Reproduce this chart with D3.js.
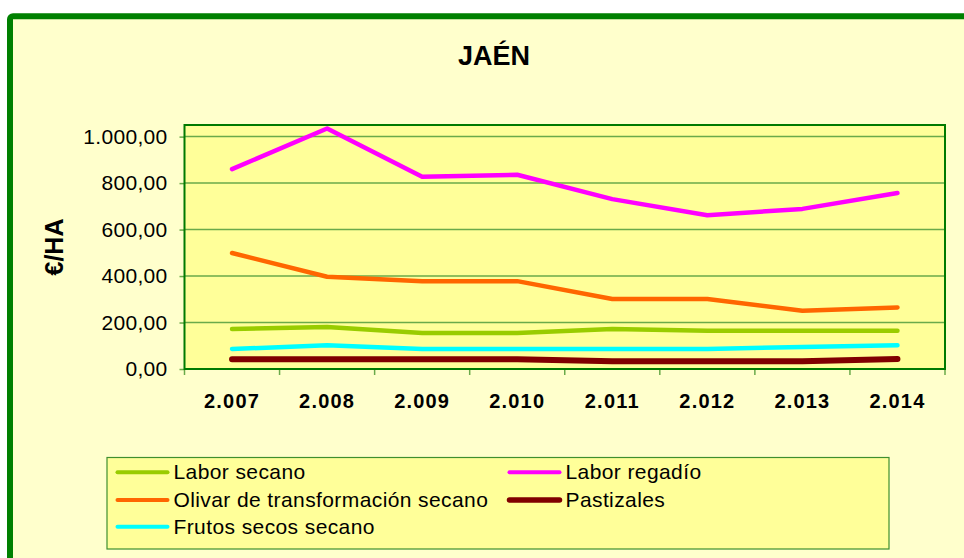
<!DOCTYPE html>
<html>
<head>
<meta charset="utf-8">
<script src="https://cdn.jsdelivr.net/npm/d3@7"></script>
<style>
  html, body { margin: 0; padding: 0; background: #fff; }
  svg { display: block; font-family: "Liberation Sans", Arial, sans-serif; }
</style>
</head>
<body>
<svg id="chart"></svg>
<script>
// data
const years = ["2.007", "2.008", "2.009", "2.010", "2.011", "2.012", "2.013", "2.014"];
const laborSecano = [172, 181, 155, 155, 172, 165, 165, 165];
const laborRegadio = [860, 1035, 827, 836, 731, 662, 689, 757];
const olivarSecano = [499, 397, 378, 378, 301, 301, 251, 265];
const pastizales = [42, 42, 42, 42, 33, 33, 33, 43];
const frutosSecos = [86, 102, 86, 86, 86, 86, 95, 102];
const yTicks = [0, 200, 400, 600, 800, 1000];

const series = [
  {name: "Labor secano", values: laborSecano, color: "#99cc00", w: 4.5},
  {name: "Labor regadío", values: laborRegadio, color: "#ff00ff", w: 4.5},
  {name: "Olivar de transformación secano", values: olivarSecano, color: "#ff6600", w: 4.5},
  {name: "Pastizales", values: pastizales, color: "#800000", w: 6},
  {name: "Frutos secos secano", values: frutosSecos, color: "#00ffff", w: 4.5}
];
// draw order: same as the picture (lighter lines under the thick ones)
const drawOrder = [1, 2, 0, 4, 3];

const W = 964, H = 558;
const plot = {left: 184.5, top: 125, right: 945, bottom: 369};

const svg = d3.select("#chart").attr("width", W).attr("height", H);

// outer frame
svg.append("rect")
  .attr("x", 10).attr("y", 16.3)
  .attr("width", 1000).attr("height", 600)
  .attr("rx", 3)
  .attr("fill", "#ffffcc")
  .attr("stroke", "#008000")
  .attr("stroke-width", 6);

svg.append("text")
  .attr("x", 494).attr("y", 64.5)
  .attr("text-anchor", "middle")
  .attr("font-size", 27).attr("font-weight", "bold")
  .text("JAÉN");

const x = d3.scaleBand().domain(years).range([plot.left, plot.right]);
const y = d3.scaleLinear().domain([0, 1050]).range([plot.bottom, plot.top]);

// plot background
svg.append("rect")
  .attr("x", plot.left).attr("y", plot.top)
  .attr("width", plot.right - plot.left).attr("height", plot.bottom - plot.top)
  .attr("fill", "#ffff99");

// gridlines + y axis
const yAxis = svg.append("g")
  .attr("transform", `translate(${plot.left},0)`)
  .call(d3.axisLeft(y).tickValues(yTicks).tickSize(5).tickPadding(12)
    .tickFormat(d => d3.format(",.2f")(d).replace(/,/g, "X").replace(".", ",").replace(/X/g, ".")));
yAxis.select(".domain").remove();
yAxis.selectAll(".tick line").attr("stroke", "#6aaa4a").attr("stroke-width", 1.5);
yAxis.selectAll(".tick text")
  .attr("font-size", 21).attr("font-family", "Liberation Sans, Arial, sans-serif")
  .attr("letter-spacing", 0.3)
  .attr("fill", "#000").attr("dy", "0.32em");

svg.append("g")
  .selectAll("line")
  .data(yTicks.filter(d => d > 0))
  .join("line")
  .attr("x1", plot.left).attr("x2", plot.right)
  .attr("y1", d => y(d)).attr("y2", d => y(d))
  .attr("stroke", "#6aaa4a").attr("stroke-width", 1.5);

// x axis ticks between categories
const xEdges = years.map(d => x(d)).concat([plot.right]);
svg.append("g")
  .selectAll("line")
  .data(xEdges)
  .join("line")
  .attr("x1", d => d).attr("x2", d => d)
  .attr("y1", plot.bottom).attr("y2", plot.bottom + 6)
  .attr("stroke", "#6aaa4a").attr("stroke-width", 1.5);

svg.append("g")
  .selectAll("text")
  .data(years)
  .join("text")
  .attr("x", d => x(d) + x.bandwidth() / 2)
  .attr("y", 407.5)
  .attr("text-anchor", "middle")
  .attr("font-size", 20).attr("font-weight", "bold")
  .attr("letter-spacing", 1.2)
  .text(d => d);

// plot border
svg.append("rect")
  .attr("x", plot.left).attr("y", plot.top)
  .attr("width", plot.right - plot.left).attr("height", plot.bottom - plot.top)
  .attr("fill", "none")
  .attr("stroke", "#007a00").attr("stroke-width", 2);

// y axis title
svg.append("text")
  .attr("transform", "translate(63,247) rotate(-90)")
  .attr("text-anchor", "middle")
  .attr("font-size", 25).attr("font-weight", "bold")
  .text("€/HA");

// lines
const line = d3.line()
  .x((d, i) => x(years[i]) + x.bandwidth() / 2)
  .y(d => y(d));

svg.append("g")
  .selectAll("path")
  .data(drawOrder.map(i => series[i]))
  .join("path")
  .attr("d", d => line(d.values))
  .attr("fill", "none")
  .attr("stroke", d => d.color)
  .attr("stroke-width", d => d.w)
  .attr("stroke-linejoin", "round")
  .attr("stroke-linecap", "round");

// legend
const legend = svg.append("g");
legend.append("rect")
  .attr("x", 107).attr("y", 457.5)
  .attr("width", 782).attr("height", 91.5)
  .attr("fill", "#ffff99")
  .attr("stroke", "#3f8f2f").attr("stroke-width", 1.2);

const colX = [117.5, 509.5];
const rowY = [472.3, 500, 526.7];
const items = legend.selectAll("g.item")
  .data(series)
  .join("g")
  .attr("class", "item")
  .attr("transform", (d, i) => `translate(${colX[i % 2]},${rowY[Math.floor(i / 2)]})`);

items.append("line")
  .attr("x1", 0).attr("x2", 50)
  .attr("stroke", d => d.color)
  .attr("stroke-width", d => d.w === 6 ? 5.5 : 4)
  .attr("stroke-linecap", "round");

items.append("text")
  .attr("x", 56).attr("y", 7)
  .attr("font-size", 21)
  .attr("letter-spacing", 0.4)
  .text(d => d.name);
</script>
</body>
</html>
